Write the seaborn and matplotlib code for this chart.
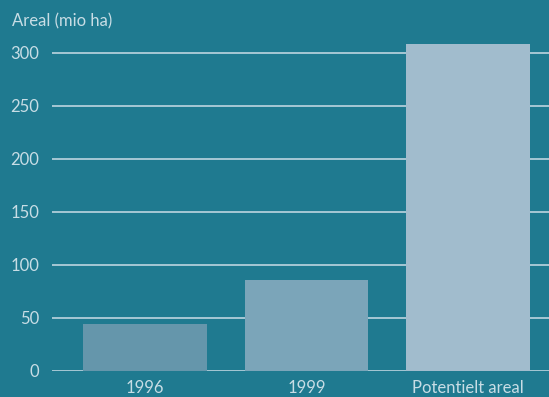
import matplotlib
matplotlib.use("Agg")
import matplotlib.pyplot as plt
import seaborn as sns
import pandas as pd

categories = ["1996", "1999", "Potentielt areal"]
values = [44, 85, 308]
bar_colors = ["#6596ab", "#7ba5b9", "#a1bccd"]
yticks = [0, 50, 100, 150, 200, 250, 300]

sns.set_theme(style="white")
plt.rcParams['font.family'] = ['Lato', 'DejaVu Sans']

bg = "#1f7a90"
txt = "#c8dde5"
grid = "#a6c8d4"

fig = plt.figure(figsize=(5.49, 3.97), dpi=100, facecolor=bg)
W, H = 549, 397
left, right = 52, 549
ymin, ymax = 0, 320
px_per = 1.06
bottom_px = 370.5
top_px = bottom_px - ymax * px_per
ax = fig.add_axes([left / W, (H - bottom_px) / H, (right - left) / W, (bottom_px - top_px) / H])
ax.set_facecolor(bg)

df = pd.DataFrame({"cat": categories, "val": values})
sns.barplot(data=df, x="cat", y="val", hue="cat", palette=bar_colors, legend=False,
            width=0.766, ax=ax, zorder=3, saturation=1, linewidth=0, edgecolor="none")

ax.set_xlim(-0.574, 2.5)
ax.set_ylim(ymin, ymax)
ax.set_yticks(yticks)
for t in yticks:
    ax.axhline(t, color=grid, lw=1.4, zorder=1)
for s in ax.spines.values():
    s.set_visible(False)
ax.tick_params(axis="both", length=0, colors=txt, labelsize=12)
ax.tick_params(axis="y", pad=9)
ax.tick_params(axis="x", pad=7)
ax.set_xlabel("")
ax.set_ylabel("")
for lab in ax.get_xticklabels() + ax.get_yticklabels():
    lab.set_color(txt)
fig.text(12 / W, 1 - 21 / H, "Areal (mio ha)", color=txt, fontsize=12, va="center", ha="left")

fig.savefig("out.png", dpi=100, facecolor=bg)
